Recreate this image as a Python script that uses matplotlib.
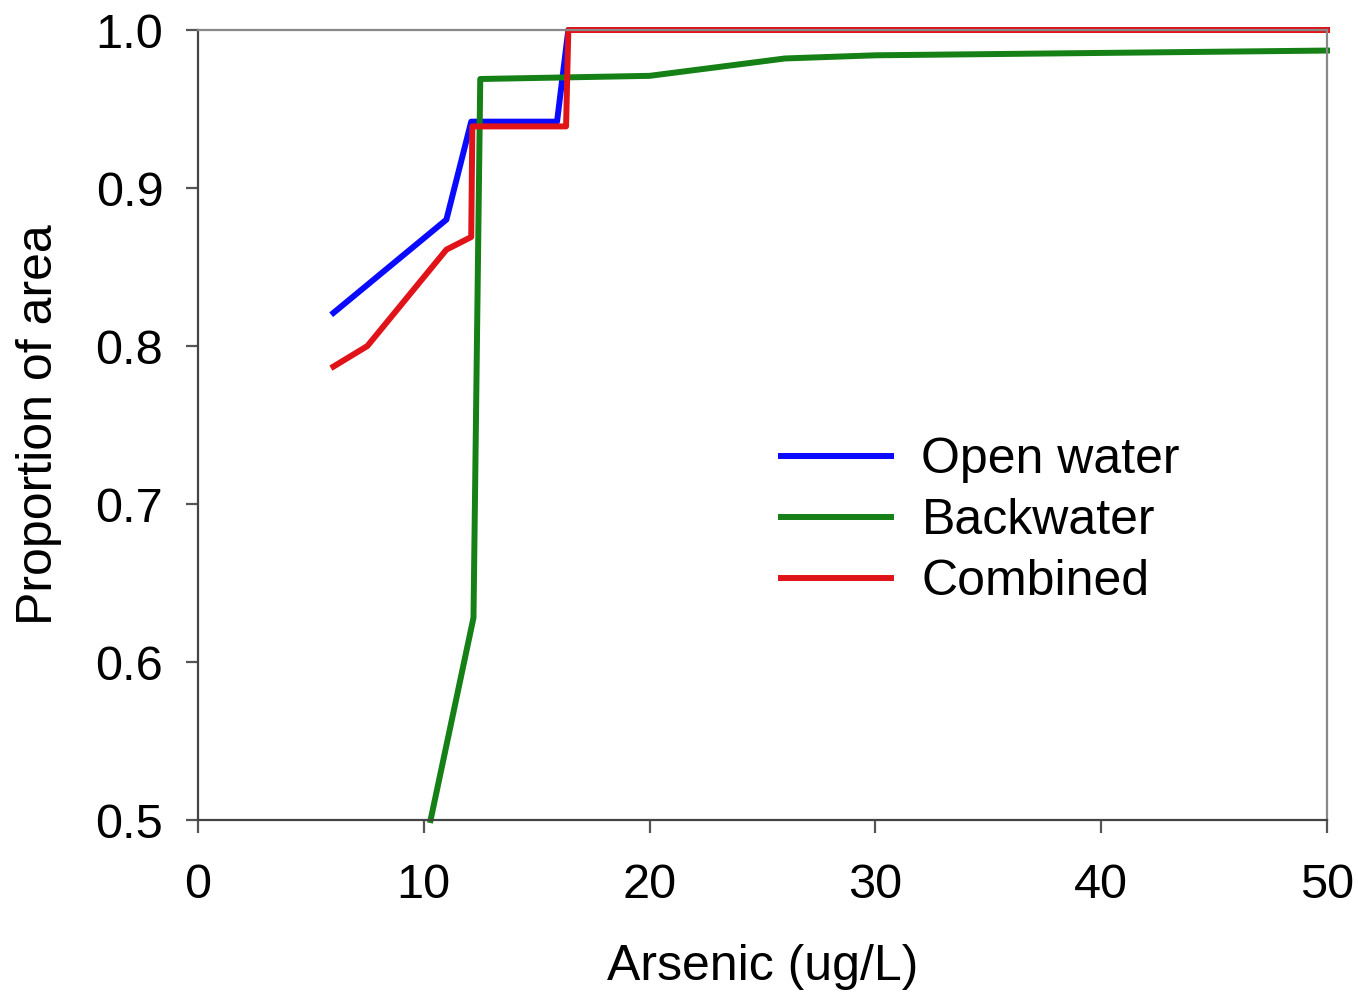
import matplotlib
matplotlib.use("Agg")
import matplotlib.pyplot as plt

plt.rcParams['font.family'] = ['Liberation Sans', 'DejaVu Sans']

open_x = [6.0, 11.0, 12.1, 15.9, 16.4, 50.0]
open_y = [0.821, 0.880, 0.942, 0.942, 1.0, 1.0]

back_x = [10.3, 12.2, 12.5, 20.0, 26.0, 30.0, 50.0]
back_y = [0.500, 0.628, 0.969, 0.971, 0.982, 0.984, 0.987]

comb_x = [6.0, 7.5, 11.0, 12.1, 12.15, 16.3, 16.4, 50.0]
comb_y = [0.787, 0.800, 0.861, 0.869, 0.939, 0.939, 1.0, 1.0]

labels = ["Open water", "Backwater", "Combined"]
xticks = [0, 10, 20, 30, 40, 50]
yticks = [0.5, 0.6, 0.7, 0.8, 0.9, 1.0]

fig = plt.figure(figsize=(13.58, 9.94), dpi=100)
ax = fig.add_axes([0.1458, 0.175, 0.9772 - 0.1458, 0.9698 - 0.175])

lw = 4.3
ax.plot(open_x, open_y, color='#0a0aff', lw=lw, label=labels[0], clip_on=False)
ax.plot(back_x, back_y, color='#158015', lw=lw, label=labels[1], clip_on=False)
ax.plot(comb_x, comb_y, color='#e01418', lw=lw, label=labels[2], clip_on=False)

ax.set_xlim(0, 50)
ax.set_ylim(0.5, 1.0)
ax.set_xticks(xticks)
ax.set_yticks(yticks)
ax.set_yticklabels([f"{v:.1f}" for v in yticks])

for s in ['left', 'bottom']:
    ax.spines[s].set_color('#444444')
    ax.spines[s].set_linewidth(1.6)
for s in ['top', 'right']:
    ax.spines[s].set_color('#888888')
    ax.spines[s].set_linewidth(1.6)

ax.tick_params(axis='both', direction='out', length=9, width=1.6, color='#555555',
               labelsize=35, labelcolor='black')
ax.tick_params(axis='y', pad=16)
ax.tick_params(axis='x', pad=22)

ax.set_xlabel("Arsenic (ug/L)", fontsize=36, labelpad=26)
ax.set_ylabel("Proportion of area", fontsize=36, labelpad=24)

ax.legend(loc='upper left', bbox_to_anchor=(0.499, 0.51), frameon=False, fontsize=36,
          handlelength=2.2, handletextpad=0.6, labelspacing=0.3, borderaxespad=0)

fig.savefig("out.png", dpi=100)
